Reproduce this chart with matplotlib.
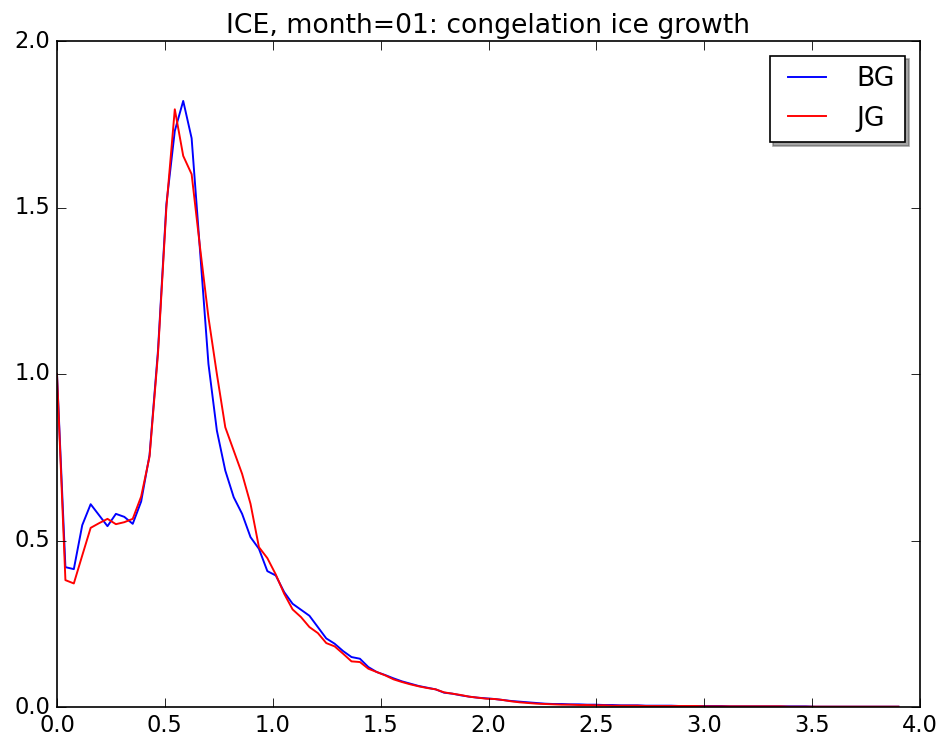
import matplotlib
matplotlib.use("Agg")
import matplotlib.pyplot as plt

plt.style.use('classic')

title = "ICE, month=01: congelation ice growth"
labels = ["BG", "JG"]
colors = ["blue", "red"]

# x grid (ice thickness, m)
x = [0.000, 0.039, 0.078, 0.117, 0.156, 0.195, 0.234, 0.273, 0.312, 0.351,
     0.390, 0.429, 0.468, 0.507, 0.546, 0.585, 0.624, 0.663, 0.702, 0.741,
     0.780, 0.819, 0.858, 0.897, 0.936, 0.975, 1.014, 1.053, 1.092, 1.131,
     1.170, 1.209, 1.248, 1.287, 1.326, 1.365, 1.404, 1.443, 1.482, 1.521,
     1.560, 1.599, 1.638, 1.677, 1.716, 1.755, 1.794, 1.833, 1.872, 1.911,
     1.950, 1.989, 2.028, 2.067, 2.106, 2.145, 2.184, 2.223, 2.262, 2.301,
     2.340, 2.379, 2.418, 2.457, 2.496, 2.535, 2.574, 2.613, 2.652, 2.691,
     2.730, 2.769, 2.808, 2.847, 2.886, 2.925, 2.964, 3.003, 3.042, 3.081,
     3.120, 3.159, 3.198, 3.237, 3.276, 3.315, 3.354, 3.393, 3.432, 3.471,
     3.510, 3.549, 3.588, 3.627, 3.666, 3.705, 3.744, 3.783, 3.822, 3.861,
     3.900]

bg = [1.000, 0.420, 0.414, 0.546, 0.609, 0.576, 0.543, 0.580, 0.571, 0.550,
      0.617, 0.757, 1.070, 1.510, 1.730, 1.820, 1.708, 1.370, 1.030, 0.830,
      0.710, 0.630, 0.580, 0.510, 0.475, 0.408, 0.395, 0.345, 0.310, 0.292,
      0.274, 0.240, 0.206, 0.190, 0.168, 0.150, 0.145, 0.120, 0.105, 0.096,
      0.086, 0.077, 0.070, 0.063, 0.058, 0.053, 0.043, 0.040, 0.035, 0.031,
      0.028, 0.026, 0.024, 0.021, 0.018, 0.016, 0.014, 0.012, 0.010, 0.009,
      0.009, 0.008, 0.008, 0.007, 0.007, 0.006, 0.006, 0.005, 0.005, 0.005,
      0.004, 0.004, 0.004, 0.004, 0.003, 0.003, 0.003, 0.003, 0.003, 0.003,
      0.002, 0.002, 0.002, 0.002, 0.002, 0.002, 0.002, 0.002, 0.002, 0.002,
      0.001, 0.001, 0.001, 0.001, 0.001, 0.001, 0.001, 0.001, 0.001, 0.001,
      0.001]

jg = [1.000, 0.381, 0.371, 0.455, 0.538, 0.552, 0.565, 0.549, 0.555, 0.565,
      0.632, 0.752, 1.060, 1.500, 1.795, 1.655, 1.600, 1.380, 1.170, 1.000,
      0.840, 0.770, 0.700, 0.610, 0.480, 0.447, 0.398, 0.340, 0.293, 0.270,
      0.240, 0.222, 0.192, 0.182, 0.160, 0.137, 0.135, 0.115, 0.105, 0.095,
      0.083, 0.075, 0.068, 0.062, 0.057, 0.053, 0.044, 0.040, 0.036, 0.031,
      0.028, 0.025, 0.024, 0.021, 0.017, 0.014, 0.012, 0.010, 0.009, 0.008,
      0.007, 0.007, 0.006, 0.006, 0.005, 0.005, 0.004, 0.004, 0.004, 0.004,
      0.003, 0.003, 0.003, 0.003, 0.003, 0.003, 0.003, 0.002, 0.002, 0.002,
      0.002, 0.002, 0.002, 0.002, 0.002, 0.002, 0.002, 0.001, 0.001, 0.001,
      0.001, 0.001, 0.001, 0.001, 0.001, 0.001, 0.001, 0.001, 0.001, 0.001,
      0.001]

fig = plt.figure(figsize=(951 / 120, 735 / 120), dpi=120, facecolor="white")
ax = fig.add_axes([57 / 951, 1 - 707 / 735, (920 - 57) / 951, (707 - 41) / 735])

ax.plot(x, bg, color=colors[0], lw=1.15, label=labels[0])
ax.plot(x, jg, color=colors[1], lw=1.15, label=labels[1])

ax.set_xlim(0, 4)
ax.set_ylim(0, 2)
ax.set_title(title, fontsize=16)
ax.tick_params(labelsize=13.5, length=5.5)
ax.legend(loc="upper right", shadow=True, fontsize=16, handletextpad=0.85,
          borderaxespad=0.55)

fig.savefig("out.png", dpi=120, facecolor="white")
